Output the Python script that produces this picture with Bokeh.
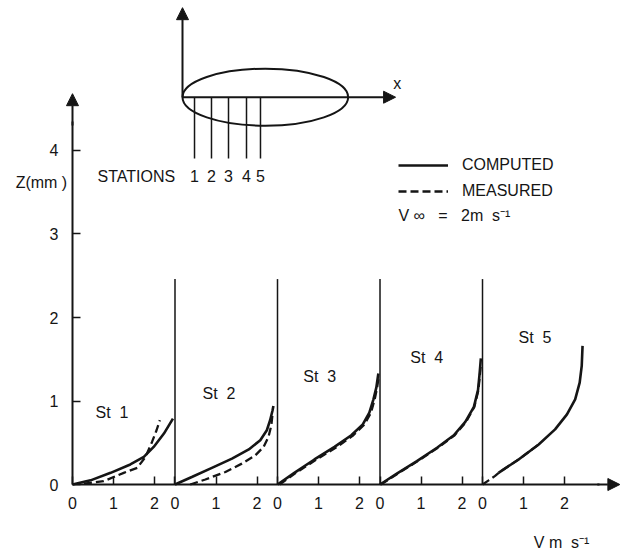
from bokeh.plotting import figure
from bokeh.models import (Range1d, LinearAxis, FixedTicker, Arrow, NormalHead,
                          Legend, LegendItem)
from bokeh.core.properties import value
from bokeh.embed import file_html
from bokeh.resources import INLINE

# ---------------- data (V in m/s, Z in mm) ----------------
stations = ["St\u00a0\u00a01", "St\u00a0\u00a02", "St\u00a0\u00a03",
            "St\u00a0\u00a04", "St\u00a0\u00a05"]
station_spacing = 2.5          # each station panel spans 2.5 V-units
tick_values = [0, 1, 2]
tick_labels = ["0", "1", "2"]
y_ticks = [0, 1, 2, 3, 4]

comp_v_st1 = [0.0, 0.44, 0.93, 1.41, 1.74, 1.98, 2.23, 2.45]
comp_z_st1 = [0.0, 0.05, 0.14, 0.24, 0.33, 0.45, 0.61, 0.79]
meas_v_st1 = [0.28, 0.76, 1.25, 1.58, 1.78, 1.94, 2.05, 2.13]
meas_z_st1 = [0.01, 0.04, 0.14, 0.20, 0.33, 0.51, 0.65, 0.77]

comp_v_st2 = [0.0, 0.41, 0.90, 1.39, 1.80, 2.08, 2.24, 2.32, 2.38, 2.40]
comp_z_st2 = [0.0, 0.09, 0.20, 0.31, 0.42, 0.53, 0.65, 0.77, 0.89, 0.94]
meas_v_st2 = [0.37, 0.74, 1.23, 1.63, 1.96, 2.16, 2.28, 2.35, 2.38]
meas_z_st2 = [0.0, 0.06, 0.15, 0.25, 0.35, 0.45, 0.57, 0.71, 0.85]

comp_v_st3 = [0.0, 0.41, 0.90, 1.39, 1.80, 2.08, 2.24, 2.34, 2.41, 2.46]
comp_z_st3 = [0.0, 0.14, 0.30, 0.45, 0.59, 0.72, 0.86, 1.02, 1.16, 1.33]
meas_v_st3 = [0.05, 0.45, 0.95, 1.45, 1.85, 2.12, 2.28, 2.37, 2.43, 2.47]
meas_z_st3 = [0.0, 0.14, 0.30, 0.45, 0.59, 0.72, 0.86, 1.02, 1.16, 1.30]

comp_v_st4 = [0.0, 0.41, 0.90, 1.39, 1.80, 2.08, 2.29, 2.39, 2.43, 2.46]
comp_z_st4 = [0.0, 0.13, 0.28, 0.44, 0.59, 0.75, 0.93, 1.13, 1.33, 1.51]
meas_v_st4 = [0.02, 0.43, 0.92, 1.41, 1.82, 2.10, 2.30, 2.40, 2.44, 2.46]
meas_z_st4 = [0.0, 0.13, 0.28, 0.44, 0.59, 0.75, 0.93, 1.13, 1.33, 1.45]

comp_v_st5 = [0.39, 0.88, 1.37, 1.77, 2.06, 2.26, 2.37, 2.42, 2.44]
comp_z_st5 = [0.14, 0.30, 0.48, 0.66, 0.84, 1.02, 1.22, 1.42, 1.66]
meas_v_st5 = [0.0, 0.15, 0.30, 0.42, 0.88, 1.37]
meas_z_st5 = [0.0, 0.05, 0.10, 0.15, 0.30, 0.48]

comp_v = [comp_v_st1, comp_v_st2, comp_v_st3, comp_v_st4, comp_v_st5]
comp_z = [comp_z_st1, comp_z_st2, comp_z_st3, comp_z_st4, comp_z_st5]
meas_v = [meas_v_st1, meas_v_st2, meas_v_st3, meas_v_st4, meas_v_st5]
meas_z = [meas_z_st1, meas_z_st2, meas_z_st3, meas_z_st4, meas_z_st5]

# station label anchors (V inside panel, Z)
label_v = [0.56, 0.67, 0.63, 0.74, 0.88]
label_z = [0.86, 1.09, 1.29, 1.52, 1.76]

# inset sketch (schematic, in plot units)
inset_station_x = [2.976, 3.39, 3.805, 4.244, 4.585]
inset_station_labels = ["1", "2", "3", "4", "5"]

INK = "#151515"
FONT_NAME = "Liberation Sans"
FONT = value(FONT_NAME)
FS = "16px"

p = figure(width=621, height=554, output_backend="svg", toolbar_location=None,
           x_range=Range1d(-1.756, 13.39), y_range=Range1d(-0.838, 5.796),
           x_axis_location=None, y_axis_location=None, min_border=0,
           outline_line_color=None, background_fill_color="white")
p.xgrid.visible = False
p.ygrid.visible = False

# ---------------- axes ----------------
yax = LinearAxis(fixed_location=0, bounds=(0, 4.35),
                 ticker=FixedTicker(ticks=y_ticks),
                 axis_line_width=2, axis_line_color=INK,
                 major_tick_in=8, major_tick_out=0, major_tick_line_width=1.5,
                 major_tick_line_color=INK, minor_tick_line_color=None,
                 major_label_standoff=14, major_label_text_font=FONT_NAME,
                 major_label_text_font_size=FS, major_label_text_color=INK)
p.add_layout(yax, "left")

xticks = []
overrides = {}
for i in range(len(stations)):
    for t, lab in zip(tick_values, tick_labels):
        tv = float(t + i * station_spacing)
        xticks.append(tv)
        overrides[tv] = lab
xax = LinearAxis(fixed_location=0, bounds=(0, 12.85),
                 ticker=FixedTicker(ticks=xticks),
                 axis_line_width=2, axis_line_color=INK,
                 major_tick_in=8, major_tick_out=0, major_tick_line_width=1.5,
                 major_tick_line_color=INK, minor_tick_line_color=None,
                 major_label_standoff=12, major_label_text_font=FONT_NAME,
                 major_label_text_font_size=FS, major_label_text_color=INK,
                 major_label_overrides=overrides)
p.add_layout(xax, "below")

p.add_layout(Arrow(x_start=0, y_start=4.3, x_end=0, y_end=4.68, line_width=2,
                   line_color=INK,
                   end=NormalHead(size=12, fill_color=INK, line_color=INK)))
p.add_layout(Arrow(x_start=12.8, y_start=0, x_end=13.35, y_end=0, line_width=2,
                   line_color=INK,
                   end=NormalHead(size=12, fill_color=INK, line_color=INK)))

# separators between stations
sep_x = [station_spacing * k for k in range(1, len(stations))]
p.segment(x0=sep_x, y0=[0] * len(sep_x), x1=sep_x, y1=[2.46] * len(sep_x),
          line_color=INK, line_width=1.5)

# ---------------- curves ----------------
comp_renderers = []
meas_renderers = []
for i in range(len(stations)):
    off = i * station_spacing
    rm = p.line([v + off for v in meas_v[i]], meas_z[i], line_color=INK,
                line_width=2.3, line_dash="8 4")
    rc = p.line([v + off for v in comp_v[i]], comp_z[i], line_color=INK,
                line_width=2.6)
    comp_renderers.append(rc)
    meas_renderers.append(rm)

p.text(x=[label_v[i] + i * station_spacing for i in range(len(stations))],
       y=label_z, text=stations, text_font=FONT, text_font_size=FS,
       text_align="left", text_baseline="middle", text_color=INK)

# ---------------- labels ----------------
p.text(x=[-0.13], y=[3.62], text=["Z(mm\u00a0)"], text_font=FONT,
       text_font_size=FS, text_align="right", text_baseline="middle",
       text_color=INK)
p.text(x=[11.25], y=[-0.69], text=["V\u00a0m\u00a0\u00a0s\u207b\u00b9"],
       text_font=FONT, text_font_size=FS, text_align="left",
       text_baseline="middle", text_color=INK)
p.text(x=[7.95], y=[3.22],
       text=["V\u00a0\u221e\u00a0\u00a0\u00a0=\u00a0\u00a0\u00a02m\u00a0\u00a0s\u207b\u00b9"],
       text_font=FONT, text_font_size=FS, text_align="left",
       text_baseline="middle", text_color=INK)

legend = Legend(items=[LegendItem(label="COMPUTED", renderers=[comp_renderers[0]]),
                       LegendItem(label="MEASURED", renderers=[meas_renderers[0]])],
                location=(398, 353), orientation="vertical", glyph_width=50,
                glyph_height=20, label_height=20, label_standoff=14, spacing=6,
                padding=0, margin=0, border_line_color=None,
                background_fill_alpha=0, label_text_font=FONT_NAME,
                label_text_font_size=FS, label_text_color=INK)
p.add_layout(legend)

# ---------------- inset sketch ----------------
ax0_x, ax0_z = 2.683, 4.638
p.ellipse(x=[4.703], y=[ax0_z], width=[4.04], height=[0.683],
          fill_color=None, line_color=INK, line_width=2)
p.add_layout(Arrow(x_start=ax0_x, y_start=ax0_z, x_end=ax0_x, y_end=5.71,
                   line_width=2, line_color=INK,
                   end=NormalHead(size=12, fill_color=INK, line_color=INK)))
p.add_layout(Arrow(x_start=ax0_x, y_start=ax0_z, x_end=7.88, y_end=ax0_z,
                   line_width=2, line_color=INK,
                   end=NormalHead(size=12, fill_color=INK, line_color=INK)))
p.segment(x0=inset_station_x, y0=[ax0_z] * 5, x1=inset_station_x,
          y1=[3.904] * 5, line_color=INK, line_width=1.5)
p.text(x=inset_station_x, y=[3.689] * 5, text=inset_station_labels,
       text_font=FONT, text_font_size=FS, text_align="center",
       text_baseline="middle", text_color=INK)
p.text(x=[0.61], y=[3.689], text=["STATIONS"], text_font=FONT,
       text_font_size=FS, text_align="left", text_baseline="middle",
       text_color=INK)
p.text(x=[7.92], y=[4.80], text=["x"], text_font=FONT, text_font_size=FS,
       text_align="center", text_baseline="middle", text_color=INK)

open("out.html", "w").write(file_html(p, INLINE))
